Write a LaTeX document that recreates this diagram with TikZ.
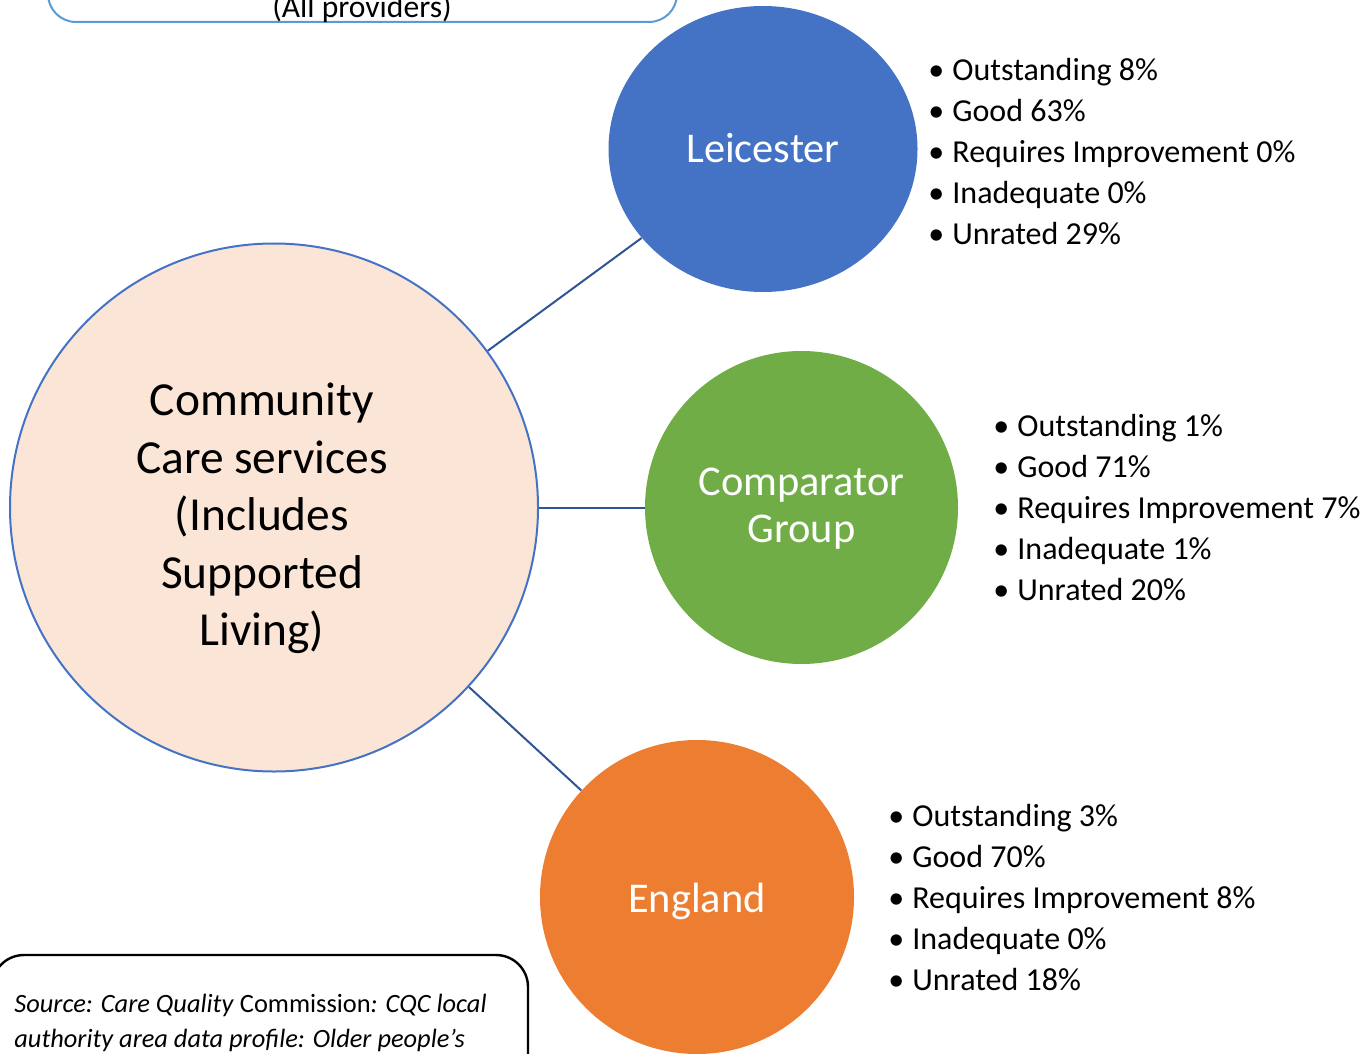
\documentclass[tikz,border=0pt]{standalone}
\usepackage{fontspec}
\setmainfont{Carlito}
\usetikzlibrary{shapes.geometric}
\definecolor{leicblue}{HTML}{4472C4}
\definecolor{compgreen}{HTML}{70AD47}
\definecolor{engorange}{HTML}{ED7D31}
\definecolor{peach}{HTML}{FBE5D6}
\definecolor{linkblue}{HTML}{2F5597}
\definecolor{boxblue}{HTML}{5B9BD5}
\tikzset{
  hub/.style={circle,draw=leicblue,line width=1pt,fill=peach,minimum size=264pt,inner sep=0pt},
  area/.style={inner sep=0pt,text=white,align=center,font=\fontsize{21.2}{23.5}\selectfont},
  rating/.style={anchor=base west,inner sep=0pt,font=\fontsize{16}{19}\selectfont},
  link/.style={draw=linkblue,line width=1pt},
}
% one bulleted list of ratings, one node per line
\newcommand{\ratings}[4]{
  \foreach \txt [count=\i] in {#4}{
    \node[rating] (#1-\i) at (#2,{#3+41*(\i-1)}) {\makebox[12pt][l]{\textbullet}\txt};
  }
}

\begin{document}
\begin{tikzpicture}[x=0.5pt,y=-0.5pt]
  \useasboundingbox (0,0) rectangle (1363,1053);
  \clip (0,0) rectangle (1363,1053);

  % box at the top, mostly cut off
  \draw[boxblue,line width=1pt,rounded corners=14pt] (48,-80) rectangle (677,22);
  \node[anchor=base,inner sep=0pt,font=\fontsize{15.8}{19}\selectfont] (allprov) at (362,18) {(All providers)};

  % the circles
  \node[hub] (hub) at (274,507.5) {};
  \node[align=center,inner sep=0pt,font=\fontsize{23.7}{28.7}\selectfont] (hubtext) at ([shift={(-12,11)}]hub.center)
    {Community\\Care services\\(Includes\\Supported\\Living)};
  \node[area,ellipse,fill=leicblue,minimum width=154.5pt,minimum height=143pt] (leic) at (763,149) {};
  \node[area] (leictext) at ([yshift=0.5pt]leic.center) {Leicester};
  \node[area,circle,fill=compgreen,minimum size=156.5pt] (comp) at (801.5,507.5) {};
  \node[area] (comptext) at ([yshift=-0.5pt]comp.center) {Comparator\\Group};
  \node[area,circle,fill=engorange,minimum size=157pt] (eng) at (697,897) {};
  \node[area] (engtext) at ([yshift=-2pt]eng.center) {England};

  \draw[link] (hub) -- (leic);
  \draw[link] (hub) -- (comp);
  \draw[link] (hub) -- (eng);

  % ratings next to each area
  \ratings{leicr}{928}{81}{Outstanding 8\%,Good 63\%,Requires Improvement 0\%,Inadequate 0\%,Unrated 29\%}
  \ratings{compr}{993}{436}{Outstanding 1\%,Good 71\%,Requires Improvement 7\%,Inadequate 1\%,Unrated 20\%}
  \ratings{engr}{888}{826}{Outstanding 3\%,Good 70\%,Requires Improvement 8\%,Inadequate 0\%,Unrated 18\%}

  % source box, cut off at the bottom
  \draw[line width=1.2pt,rounded corners=16pt] (-8,955) rectangle (528,1120);
  \node[anchor=base west,inner sep=0pt,font=\fontsize{13.2}{17.5}\selectfont] (src1) at (14,1012)
    {\textit{Source: Care Quality} Commission\textit{: CQC local}};
  \node[anchor=base west,inner sep=0pt,font=\fontsize{13.2}{17.5}\selectfont] (src2) at (14,1047)
    {\textit{authority area data profile: Older people’s}};
\end{tikzpicture}
\end{document}
